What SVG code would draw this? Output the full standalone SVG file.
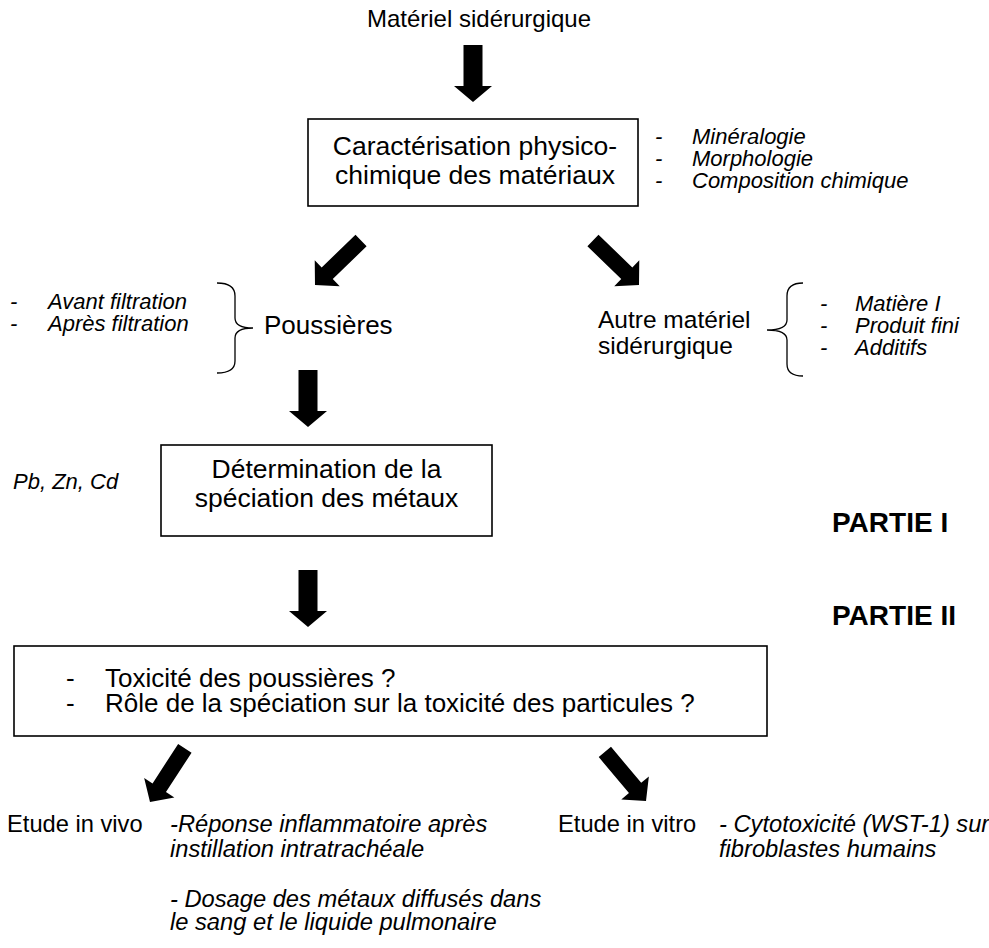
<svg xmlns="http://www.w3.org/2000/svg" xmlns:xlink="http://www.w3.org/1999/xlink" width="989" height="948" viewBox="0 0 989 948">
<style>
text{font-family:"Liberation Sans",Arial,sans-serif;fill:#000}
.box{fill:#fff;stroke:#000;stroke-width:1.6}
.n{font-size:26.5px}
.c{text-anchor:middle}
.li{font-size:22px;font-style:italic}
.lo{font-size:23.7px}
.loi{font-size:23.7px;font-style:italic}
.b{font-size:28px;font-weight:bold}
.br{fill:none;stroke:#000;stroke-width:1.3}
.ar{fill:#000}
</style>
<defs>
<path id="arrowV" d="M-9.5,-57 L9.5,-57 L9.5,-16 L19,-16 L0,0 L-19,-16 L-9.5,-16 Z"/>
<path id="arrowD" d="M-8,-64 L8,-64 L8,-17 L18,-17 L0,0 L-18,-17 L-8,-17 Z"/>
</defs>
<rect width="989" height="948" fill="#fff"/>

<g id="connectors" class="ar">
<use xlink:href="#arrowV" href="#arrowV" transform="translate(473,102)"/>
<use xlink:href="#arrowD" href="#arrowD" transform="translate(315,285) rotate(46)"/>
<use xlink:href="#arrowD" href="#arrowD" transform="translate(639,285) rotate(-46)"/>
<use xlink:href="#arrowV" href="#arrowV" transform="translate(308,427)"/>
<use xlink:href="#arrowV" href="#arrowV" transform="translate(308,627)"/>
<use xlink:href="#arrowD" href="#arrowD" transform="translate(150,802) rotate(33)"/>
<use xlink:href="#arrowD" href="#arrowD" transform="translate(646,801) rotate(-40)"/>
</g>

<g id="title">
<text x="479" y="27" class="c" style="font-size:24px">Matériel sidérurgique</text>
</g>

<g id="caracterisation">
<rect class="box" x="308" y="119" width="330" height="87"/>
<text x="475" y="155" class="n c">Caractérisation physico-</text>
<text x="475" y="184" class="n c">chimique des matériaux</text>
</g>

<g id="liste-caracterisation" class="li">
<text x="655" y="144">-</text><text x="692" y="144">Minéralogie</text>
<text x="655" y="166">-</text><text x="692" y="166">Morphologie</text>
<text x="655" y="188">-</text><text x="692" y="188">Composition chimique</text>
</g>

<g id="liste-poussieres" class="li">
<text x="10" y="309">-</text><text x="48" y="309">Avant filtration</text>
<text x="10" y="331">-</text><text x="48" y="331">Après filtration</text>
<path class="br" d="M217,283 C229,283 235,287 235,296 L235,318 C235,325 242,328 253,328 C242,328 235,331 235,338 L235,361 C235,369 229,373 217,373"/>
</g>

<g id="poussieres">
<text x="264" y="334" style="font-size:26px">Poussières</text>
</g>

<g id="autre-materiel">
<text x="598" y="328" style="font-size:24.5px">Autre matériel</text>
<text x="598" y="354" style="font-size:24.5px">sidérurgique</text>
</g>

<g id="liste-autre" class="li">
<path class="br" d="M803,283 C792,283 787,287 787,296 L787,320 C787,327 780,330 767,330 C780,330 787,333 787,340 L787,364 C787,372 792,376 803,376"/>
<text x="820" y="311">-</text><text x="855" y="311">Matière I</text>
<text x="820" y="333">-</text><text x="855" y="333">Produit fini</text>
<text x="820" y="355">-</text><text x="855" y="355">Additifs</text>
</g>

<g id="metaux">
<text x="13" y="489" class="li">Pb, Zn, Cd</text>
</g>

<g id="speciation">
<rect class="box" x="161" y="445" width="331" height="91"/>
<text x="326.5" y="478" class="n c">Détermination de la</text>
<text x="326.5" y="507" class="n c">spéciation des métaux</text>
</g>

<g id="parties">
<text x="832" y="532" class="b">PARTIE I</text>
<text x="832" y="625" class="b">PARTIE II</text>
</g>

<g id="toxicite">
<rect class="box" x="14" y="646" width="753" height="90"/>
<text x="66" y="687" style="font-size:26px">-</text>
<text x="105" y="687" style="font-size:26px">Toxicité des poussières ?</text>
<text x="66" y="712" style="font-size:26px">-</text>
<text x="105" y="712" style="font-size:26px">Rôle de la spéciation sur la toxicité des particules ?</text>
</g>

<g id="in-vivo">
<text x="7" y="832" class="lo">Etude in vivo</text>
<text x="170" y="832" class="loi">-Réponse inflammatoire après</text>
<text x="170" y="857" class="loi">instillation intratrachéale</text>
<text x="170" y="907" class="loi">- Dosage des métaux diffusés dans</text>
<text x="170" y="930" class="loi">le sang et le liquide pulmonaire</text>
</g>

<g id="in-vitro">
<text x="558" y="832" class="lo">Etude in vitro</text>
<text x="719" y="832" class="loi">- Cytotoxicité (WST-1) sur</text>
<text x="719" y="857" class="loi">fibroblastes humains</text>
</g>
</svg>
